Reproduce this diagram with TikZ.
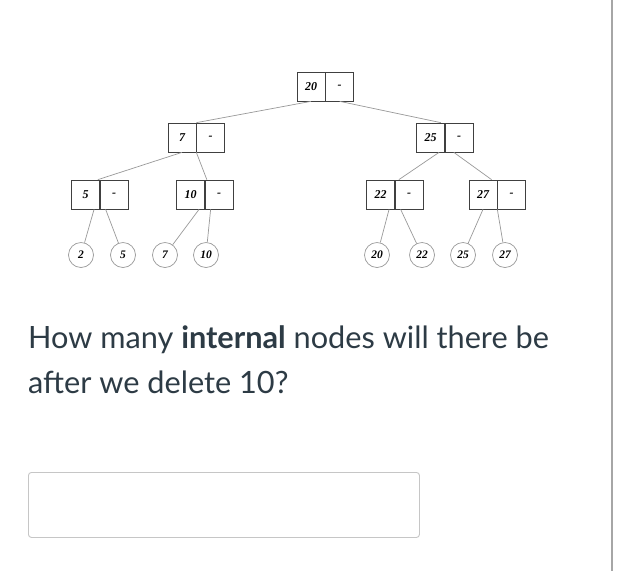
\documentclass[tikz,border=0pt]{standalone}
\usepackage{fontspec}
\usepackage{tikz}
\usetikzlibrary{positioning}
\newfontfamily\treefont{Liberation Serif}
\newfontfamily\latofont{Lato}
\definecolor{qtext}{HTML}{2D3B45}
\tikzset{container/.style={draw=gray!45, rounded corners=3pt, line width=0.9pt}}

\begin{document}
\begin{tikzpicture}[x=1pt, y=-1pt]
\tikzstyle{keycell} = [rectangle, draw=black!75, line width=0.7pt, minimum width=28pt, minimum height=29pt, inner sep=0pt, font=\treefont\bfseries\itshape\fontsize{12}{14}\selectfont]
\tikzstyle{dashcell} = [keycell, anchor=west]
\tikzstyle{leaf} = [circle, draw=gray!80, line width=0.7pt, minimum size=25pt, inner sep=0pt, font=\treefont\bfseries\itshape\fontsize{11.5}{14}\selectfont]
\tikzstyle{edge} = [draw=gray!80, line width=0.7pt]
\useasboundingbox (0,0) rectangle (620,571);
\fill[white] (0,0) rectangle (620,571);

% internal nodes
\node (n20) [keycell] at (311,86.5) {20};
\node (n20d) [dashcell] at (n20.east) {-};
\node (n7) [keycell] at (182,137.5) {7};
\node (n7d) [dashcell] at (n7.east) {-};
\node (n25) [keycell] at (430.5,137.5) {25};
\node (n25d) [dashcell] at (n25.east) {-};
\node (n5) [keycell] at (85.5,194.5) {5};
\node (n5d) [dashcell] at (n5.east) {-};
\node (n10) [keycell] at (190.5,194.5) {10};
\node (n10d) [dashcell] at (n10.east) {-};
\node (n22) [keycell] at (380.5,194.5) {22};
\node (n22d) [dashcell] at (n22.east) {-};
\node (n27) [keycell] at (483,194.5) {27};
\node (n27d) [dashcell] at (n27.east) {-};

% leaves
\node (l2) [leaf] at (81,255) {2};
\node (l5) [leaf] at (123,255) {5};
\node (l7) [leaf] at (165,255) {7};
\node (l10) [leaf] at (206,255) {10};
\node (l20) [leaf] at (377,255) {20};
\node (l22) [leaf] at (422,255) {22};
\node (l25) [leaf] at (463,255) {25};
\node (l27) [leaf] at (505,255) {27};

\draw [edge] (n20.south) -- (n7.north east);
\draw [edge] (n20d.south) -- ([xshift=-4pt]n25.north east);
\draw [edge] (n7.south) -- ([xshift=-2pt]n5.north east);
\draw [edge] (n7.south east) -- ([xshift=2pt]n10.north east);
\draw [edge] (n25.300) -- ([xshift=4pt]n22.north east);
\draw [edge] (n25d.250) -- (n27.60);
\draw [edge] (n5.300) -- (l2);
\draw [edge] (n5d.240) -- (l5);
\draw [edge] (n10.300) -- (l7);
\draw [edge] (n10d.240) -- (l10);
\draw [edge] (n22.300) -- (l20);
\draw [edge] (n22d.240) -- (l22);
\draw [edge] (n27.south) -- (l25);
\draw [edge] (n27.south east) -- (l27);

% question
\node (q1) [anchor=base west, inner sep=0pt, text=qtext, font=\latofont\fontsize{30.7}{34}\selectfont] at (28,348) {How many \textbf{internal} nodes will there be};
\node (q2) [anchor=base west, inner sep=0pt, text=qtext, font=\latofont\fontsize{30.7}{34}\selectfont] at (28,393) {after we delete 10?};
\node (answer) [container, anchor=north west, minimum width=391pt, minimum height=65pt] at (28,472) {};
\draw [gray!70, line width=1.2pt] (612,0) -- (612,571);
\end{tikzpicture}
\end{document}
